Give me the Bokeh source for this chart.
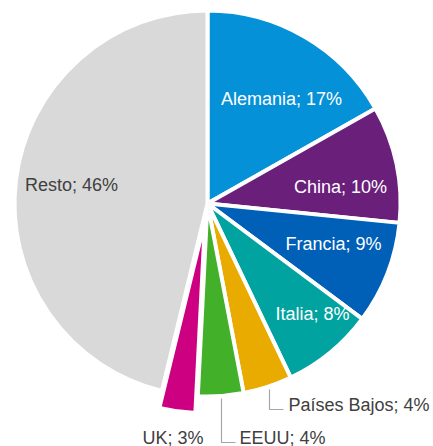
import math
from bokeh.plotting import figure
from bokeh.models import Range1d, ColumnDataSource
from bokeh.core.properties import value
from bokeh.embed import file_html
from bokeh.resources import INLINE

# ---- data ----
countries = ["Alemania", "China", "Francia", "Italia", "Países Bajos", "EEUU", "UK", "Resto"]
shares = [16.8, 9.8, 8.6, 7.7, 4.1, 3.8, 3.0, 46.2]
colors = ["#0591D8", "#6A1F7A", "#0060B8", "#00A3A0", "#EAAB00", "#43B02A", "#CC0080", "#D9D9D9"]

# ---- layout (page pixel space; y data = 446 - y_px) ----
W, H = 433, 446
CX, CY_PX, R = 207, 203, 193
explode = [0, 0, 0, 0, 0, 0, 17, 0]
def Y(ypx):
    return H - ypx

total = float(sum(shares))
cxs, cys, starts, ends = [], [], [], []
acc = 0.0
for s, e in zip(shares, explode):
    a1 = acc / total * 2 * math.pi
    acc += s
    a2 = acc / total * 2 * math.pi
    mid = (a1 + a2) / 2
    cxs.append(CX + e * math.sin(mid))
    cys.append(Y(CY_PX) + e * math.cos(mid))
    starts.append(math.pi / 2 - a2)
    ends.append(math.pi / 2 - a1)

src = ColumnDataSource(dict(x=cxs, y=cys, start=starts, end=ends, color=colors))

p = figure(width=W, height=H, output_backend="svg", toolbar_location=None,
           x_range=Range1d(0, W), y_range=Range1d(0, H),
           min_border=0, outline_line_color=None)
p.axis.visible = False
p.grid.visible = False
p.background_fill_color = "white"
p.border_fill_color = "white"

p.wedge(x="x", y="y", radius=R, start_angle="start", end_angle="end",
        fill_color="color", line_color="white", line_width=4, source=src)

labels = [f"{c}; {round(s):d}%" for c, s in zip(countries, shares)]
# label anchors (layout)
lab_pos = [(281, 98, "center"), (340, 186, "center"), (333, 243, "center"), (312, 313, "center"),
           (288, 404, "left"), (239, 437, "left"), (203, 437, "right"), (71, 184, "center")]
lab_col = ["white", "white", "white", "white", "#404040", "#404040", "#404040", "#404040"]

for t, (lx, ly, al), col in zip(labels, lab_pos, lab_col):
    p.text(x=[lx], y=[Y(ly)], text=[t], text_align=al, text_baseline="middle",
           text_color=col, text_font=value("Liberation Sans"), text_font_size="18px")

# leader lines
p.line(x=[269, 269, 283], y=[Y(389), Y(409), Y(409)], line_color="#A6A6A6", line_width=1.2)
p.line(x=[221, 221, 235], y=[Y(398), Y(442), Y(442)], line_color="#A6A6A6", line_width=1.2)

open("out.html", "w").write(file_html(p, INLINE))
